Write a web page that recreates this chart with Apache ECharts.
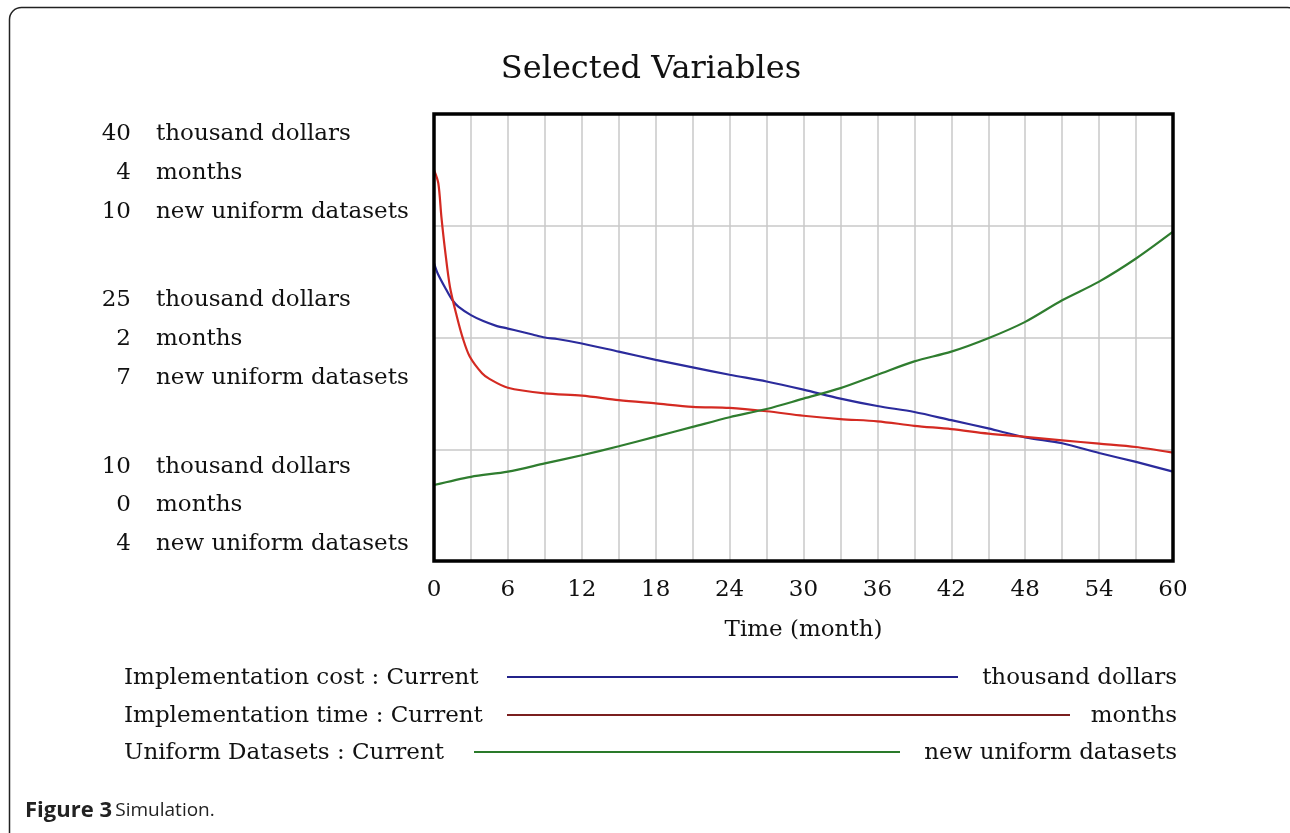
<!DOCTYPE html>
<html>
<head>
<meta charset="utf-8">
<script src="https://cdn.jsdelivr.net/npm/echarts@6/dist/echarts.min.js"></script>
<style>
html,body{margin:0;padding:0;background:#fff;}
#chart{width:1290px;height:833px;}
</style>
</head>
<body>
<div id="chart"></div>
<script>
// ---- Data ----
const costMonths = [0,0.3,1,1.5,2,3,4,5,6,7,8,9,10,12,15,18,21,24,27,30,33,36,39,42,45,48,51,54,57,60];
const costValues = [30.0,29.3,28.2,27.5,27.05,26.5,26.1,25.8,25.6,25.4,25.2,25.0,24.9,24.6,24.05,23.5,23.0,22.5,22.05,21.5,20.9,20.4,20.0,19.45,18.9,18.3,17.9,17.25,16.65,16.0];

const timeMonths = [0,0.35,0.6,0.9,1.3,1.85,2.35,2.9,3.9,4.5,6,9,12,15,18,21,24,27,30,33,36,39,42,45,48,51,54,57,60];
const timeValues = [3.5,3.38,3.08,2.78,2.45,2.19,1.99,1.83,1.68,1.63,1.55,1.50,1.48,1.44,1.41,1.38,1.37,1.34,1.30,1.27,1.25,1.21,1.18,1.14,1.11,1.08,1.05,1.02,0.97];

const datasetMonths = [0,3,6,9,12,15,18,21,24,27,30,33,36,39,42,45,48,51,54,57,60];
const datasetValues = [5.02,5.13,5.20,5.31,5.42,5.54,5.67,5.80,5.93,6.04,6.18,6.32,6.50,6.68,6.81,6.99,7.21,7.50,7.75,8.06,8.42];

const units = ['thousand dollars', 'months', 'new uniform datasets'];
const leftTickGroups = [['40','4','10'], ['25','2','7'], ['10','0','4']];
const seriesNames = ['Implementation cost : Current', 'Implementation time : Current', 'Uniform Datasets : Current'];
const xTicks = [0,6,12,18,24,30,36,42,48,54,60];
const title = 'Selected Variables';
const xName = 'Time (month)';

// ---- Styles ----
const SERIF = '"DejaVu Serif", "Liberation Serif", serif';
const FS = 23;
const lineColors = ['#2b2b9c', '#d42a22', '#2f7d2f'];
const legendColors = ['#23238a', '#7a1f1f', '#2a7a2a'];

function pairs(xs, ys){ return xs.map((x,i)=>[x, ys[i]]); }

const graphics = [];
// outer frame
graphics.push({type:'rect', shape:{x:9.5, y:7.5, width:1290, height:900, r:12},
  style:{fill:'none', stroke:'#222', lineWidth:1.5}, z:-1});
// plot frame
graphics.push({type:'rect', shape:{x:434, y:114, width:739, height:447},
  style:{fill:'none', stroke:'#000', lineWidth:3.5}, z:10});
// title
graphics.push({type:'text', x:651, y:70, style:{text:title, font:'32px ' + SERIF, fill:'#111', textAlign:'center', textVerticalAlign:'middle'}});
// left labels
const groupY = [[134,173,212],[300,339,378],[467,505,544]];
leftTickGroups.forEach((g, gi) => {
  g.forEach((v, i) => {
    graphics.push({type:'text', x:131, y:groupY[gi][i], style:{text:v, font:FS + 'px ' + SERIF, fill:'#111', textAlign:'right', textVerticalAlign:'middle'}});
    graphics.push({type:'text', x:156, y:groupY[gi][i], style:{text:units[i], font:FS + 'px ' + SERIF, fill:'#111', textAlign:'left', textVerticalAlign:'middle'}});
  });
});
// legend
const legY = [678, 716, 753];
const legLine = [[507,958],[507,1070],[474,900]];
seriesNames.forEach((n, i) => {
  graphics.push({type:'text', x:124, y:legY[i], style:{text:n, font:FS + 'px ' + SERIF, fill:'#111', textAlign:'left', textVerticalAlign:'middle'}});
  graphics.push({type:'line', shape:{x1:legLine[i][0], y1:legY[i]-1, x2:legLine[i][1], y2:legY[i]-1}, style:{stroke:legendColors[i], lineWidth:2}});
  graphics.push({type:'text', x:1177, y:legY[i], style:{text:units[i], font:FS + 'px ' + SERIF, fill:'#111', textAlign:'right', textVerticalAlign:'middle'}});
});
// caption
graphics.push({type:'text', x:25, y:811, style:{
  text:'{b|Figure 3} {n|Simulation.}',
  textVerticalAlign:'middle',
  rich:{b:{font:'bold 22px "Open Sans", sans-serif', fill:'#222'}, n:{font:'19px "Open Sans", sans-serif', fill:'#222'}}
}});

const chart = echarts.init(document.getElementById('chart'), null, {renderer:'canvas'});
chart.setOption({
  backgroundColor:'#fff',
  animation:false,
  grid:{left:434, top:114, right:117, bottom:272, show:false},
  xAxis:{type:'value', min:0, max:60, interval:3,
    axisLine:{show:false}, axisTick:{show:false},
    splitLine:{show:true, lineStyle:{color:'#c8c8c8', width:1.5}},
    axisLabel:{margin:18, color:'#111', fontFamily:SERIF, fontSize:FS,
      formatter:v => xTicks.indexOf(v) >= 0 ? String(v) : ''},
    name:xName, nameLocation:'middle', nameGap:58,
    nameTextStyle:{color:'#111', fontFamily:SERIF, fontSize:FS}
  },
  yAxis:[
    {type:'value', min:10, max:40, interval:7.5, axisLine:{show:false}, axisTick:{show:false}, axisLabel:{show:false},
      splitLine:{show:true, lineStyle:{color:'#c8c8c8', width:1.5}}},
    {type:'value', min:0, max:4, show:false, splitLine:{show:false}},
    {type:'value', min:4, max:10, show:false, splitLine:{show:false}}
  ],
  series:[
    {type:'line', name:seriesNames[0], yAxisIndex:0, data:pairs(costMonths, costValues), showSymbol:false, smooth:0.3,
      lineStyle:{color:lineColors[0], width:2.2}, z:3},
    {type:'line', name:seriesNames[1], yAxisIndex:1, data:pairs(timeMonths, timeValues), showSymbol:false, smooth:0.3,
      lineStyle:{color:lineColors[1], width:2.2}, z:3},
    {type:'line', name:seriesNames[2], yAxisIndex:2, data:pairs(datasetMonths, datasetValues), showSymbol:false, smooth:0.3,
      lineStyle:{color:lineColors[2], width:2.2}, z:3}
  ],
  graphic:graphics
});
</script>
</body>
</html>
